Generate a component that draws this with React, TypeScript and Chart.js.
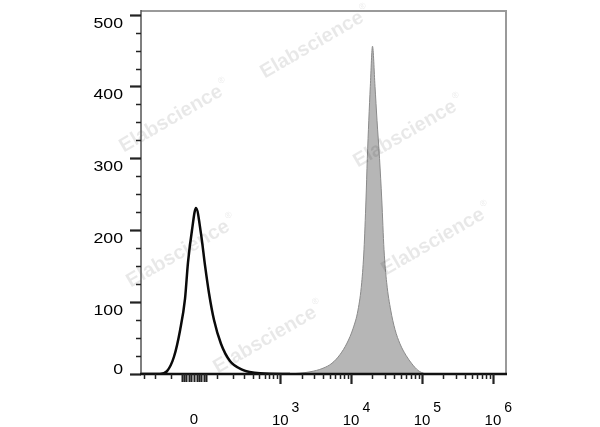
import React, { useEffect, useRef } from "react";
import { Chart, registerables } from "chart.js";

Chart.register(...registerables);

// ---- data (raw fluorescence intensity vs. event count) ----
const controlIntensity = [-330, -164, -121, -85, -57, -36, -24, -8, 8, 28, 45, 62, 85, 121, 177, 277, 512, 1376];
const controlCounts = [0, 0, 4, 24, 61, 105, 155, 200, 231, 195, 150, 112, 75, 42, 18, 6, 1, 0];

const stainedIntensity = [1376, 2634, 4020, 5385, 6985, 8765, 10645, 12530, 14130, 15215, 16230, 16950, 17790, 18680, 20060, 21760, 23220, 25190, 27120, 29145, 31800, 36215, 41630, 48960, 59500, 72350, 87960, 110300];
const stainedCounts = [0, 3, 8, 15, 27, 43, 63, 89, 127, 173, 242, 300, 353, 400, 456, 400, 353, 300, 242, 173, 127, 89, 62, 42, 26, 14, 5, 0];

const yTickValues = [0, 100, 200, 300, 400, 500];
const xLabelValues = [0, 1e3, 1e4, 1e5, 1e6];
const xLabelExponents = ["", "3", "4", "5", "6"];
const watermarkText = "Elabscience";

// display transform (arcsinh, biexponential-like)
const COFACTOR = 122;
const toDisplay = (v: number) => Math.asinh(v / COFACTOR);
const X_MIN_RAW = -330;
const X_MAX_RAW = 1.53e6;
const Y_MAX = 505;

const FONT = '"Liberation Sans", Arial, Helvetica, sans-serif';

function minorXTicks(): number[] {
  const t: number[] = [-300, -200, -100];
  for (let v = -50; v <= 50; v += 10) t.push(v);
  for (let v = 100; v <= 900; v += 100) t.push(v);
  for (let n = 3; n <= 5; n++) for (let k = 2; k <= 9; k++) t.push(k * Math.pow(10, n));
  return t;
}

const flowPlugin = {
  id: "flowAxes",
  afterDatasetsDraw(chart: any) {
    const { ctx, chartArea: a, scales } = chart;
    const x = scales.x;
    const y = scales.y;

    // watermarks
    const marks = [
      [312, 45], [171, 119], [405, 134], [178, 254], [433, 242], [265, 340],
    ];
    ctx.save();
    for (const [cx, cy] of marks) {
      ctx.save();
      ctx.translate(cx, cy);
      ctx.rotate((-30 * Math.PI) / 180);
      ctx.fillStyle = "rgba(0,0,0,0.09)";
      ctx.font = `bold 20px ${FONT}`;
      ctx.textAlign = "center";
      ctx.textBaseline = "middle";
      ctx.fillText(watermarkText, 0, 0);
      const w = ctx.measureText(watermarkText).width;
      ctx.font = `9px ${FONT}`;
      ctx.textAlign = "left";
      ctx.fillText("®", w / 2 + 2, -8);
      ctx.restore();
    }
    ctx.restore();

    ctx.save();
    // top/right frame
    ctx.strokeStyle = "#9a9a9a";
    ctx.lineWidth = 2;
    ctx.beginPath();
    ctx.moveTo(a.left, a.top);
    ctx.lineTo(a.right, a.top);
    ctx.lineTo(a.right, a.bottom);
    ctx.stroke();
    // left axis
    ctx.strokeStyle = "#555";
    ctx.lineWidth = 1.5;
    ctx.beginPath();
    ctx.moveTo(a.left, a.top - 1);
    ctx.lineTo(a.left, a.bottom);
    ctx.stroke();

    // y ticks
    for (let v = 0; v <= 500; v += 25) {
      const py = Math.round(y.getPixelForValue(v)) + 0.5;
      const major = v % 100 === 0;
      ctx.strokeStyle = "#222";
      ctx.lineWidth = major ? 2.2 : 1.5;
      ctx.beginPath();
      ctx.moveTo(a.left - (major ? 11 : 5), py);
      ctx.lineTo(a.left, py);
      ctx.stroke();
    }
    // y labels
    ctx.fillStyle = "#000";
    ctx.font = `15px ${FONT}`;
    ctx.textAlign = "right";
    ctx.textBaseline = "alphabetic";
    for (const v of yTickValues) {
      const py = y.getPixelForValue(v);
      const base = v === 0 ? py : py + 13;
      ctx.save();
      ctx.translate(123, base);
      ctx.scale(1.18, 1);
      ctx.fillText(String(v), 0, 0);
      ctx.restore();
    }

    // bottom axis
    ctx.strokeStyle = "#111";
    ctx.lineWidth = 2.5;
    ctx.beginPath();
    ctx.moveTo(a.left - 1, a.bottom);
    ctx.lineTo(a.right + 1, a.bottom);
    ctx.stroke();

    // x ticks
    for (const v of minorXTicks()) {
      const px = Math.round(x.getPixelForValue(toDisplay(v))) + 0.5;
      const nearZero = Math.abs(v) <= 50;
      ctx.strokeStyle = "#222";
      ctx.lineWidth = nearZero ? 2 : 1.5;
      ctx.beginPath();
      ctx.moveTo(px, a.bottom);
      ctx.lineTo(px, a.bottom + (nearZero ? 8 : 5));
      ctx.stroke();
    }
    for (const v of [1e3, 1e4, 1e5, 1e6]) {
      const px = Math.round(x.getPixelForValue(toDisplay(v))) + 0.5;
      ctx.lineWidth = 2.2;
      ctx.beginPath();
      ctx.moveTo(px, a.bottom);
      ctx.lineTo(px, a.bottom + 10);
      ctx.stroke();
    }

    // x labels
    ctx.fillStyle = "#000";
    ctx.textBaseline = "alphabetic";
    xLabelValues.forEach((v, i) => {
      const px = x.getPixelForValue(toDisplay(v));
      const exp = xLabelExponents[i];
      ctx.font = `15px ${FONT}`;
      ctx.textAlign = "center";
      if (!exp) {
        ctx.fillText(String(v), px, 424);
      } else {
        ctx.fillText("10", px, 425);
        const w = ctx.measureText("10").width;
        ctx.font = `14px ${FONT}`;
        ctx.textAlign = "left";
        ctx.fillText(exp, px + w / 2 + 3, 412);
      }
    });
    ctx.restore();
  },
};

export default function App() {
  const canvasRef = useRef<HTMLCanvasElement | null>(null);

  useEffect(() => {
    if (!canvasRef.current) return;
    const control = controlIntensity.map((v, i) => ({ x: toDisplay(v), y: controlCounts[i] }));
    const stained = stainedIntensity.map((v, i) => ({ x: toDisplay(v), y: stainedCounts[i] }));

    const chart = new Chart(canvasRef.current, {
      type: "line",
      data: {
        datasets: [
          {
            label: "Control",
            data: control,
            borderColor: "#0a0a0a",
            borderWidth: 2.5,
            fill: false,
            pointRadius: 0,
            cubicInterpolationMode: "monotone",
          },
          {
            label: "Stained",
            data: stained,
            borderColor: "#8a8a8a",
            borderWidth: 1,
            backgroundColor: "#b6b6b6",
            fill: "origin",
            pointRadius: 0,
            cubicInterpolationMode: "monotone",
          },
        ],
      },
      options: {
        animation: false,
        responsive: false,
        maintainAspectRatio: false,
        layout: { padding: { left: 0, top: 11, right: 94, bottom: 0 } },
        plugins: { legend: { display: false }, tooltip: { enabled: false } },
        scales: {
          x: {
            type: "linear",
            min: toDisplay(X_MIN_RAW),
            max: toDisplay(X_MAX_RAW),
            grid: { display: false },
            border: { display: false },
            ticks: { display: false },
            afterFit: (s: any) => {
              s.height = 53;
            },
          },
          y: {
            type: "linear",
            min: 0,
            max: Y_MAX,
            grid: { display: false },
            border: { display: false },
            ticks: { display: false },
            afterFit: (s: any) => {
              s.width = 141;
            },
          },
        },
      },
      plugins: [flowPlugin],
    } as any);

    return () => chart.destroy();
  }, []);

  return (
    <div style={{ position: "fixed", left: 0, top: 0, width: 600, height: 427, background: "#fff" }}>
      <canvas ref={canvasRef} width={600} height={427} />
    </div>
  );
}
